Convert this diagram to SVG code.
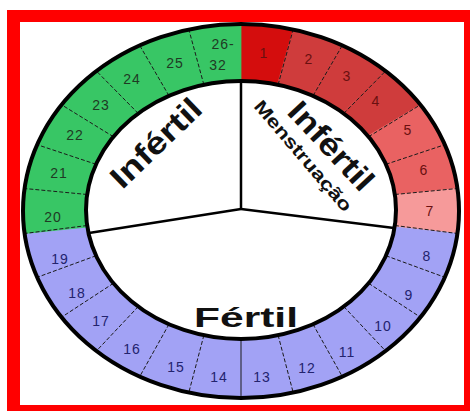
<svg xmlns="http://www.w3.org/2000/svg" width="470" height="415" viewBox="0 0 470 415">
<style>
.d1{fill:#d40d0d;stroke:#d40d0d;stroke-width:0.8}
.d2{fill:#cf3c3c;stroke:#cf3c3c;stroke-width:0.8}
.d5{fill:#e96262;stroke:#e96262;stroke-width:0.8}
.d7{fill:#f69a9a;stroke:#f69a9a;stroke-width:0.8}
.bl{fill:#a2a2f5;stroke:#a2a2f5;stroke-width:0.8}
.gr{fill:#38c665;stroke:#38c665;stroke-width:0.8}
.num{font-family:"Liberation Sans",Arial,sans-serif;font-size:14px;letter-spacing:1px;text-anchor:middle;dominant-baseline:central}
.nr{fill:#6a1010}
.nb{fill:#23236e}
.ng{fill:#1f3a24}
.sep{stroke:#1a1a1a;stroke-width:1;stroke-dasharray:4 2;fill:none}
.big{font-family:"Liberation Sans",Arial,sans-serif;font-weight:bold;fill:#111}
</style>
<rect x="0" y="0" width="470" height="415" fill="#ffffff"/>
<path d="M7,10 H470 V411 H7 Z M20,22 V405 H464 V22 Z" fill="#ff0000" fill-rule="evenodd"/>

<g id="day-1"><path class="d1" d="M241,211 L241,24 A218,187 0 0 1 293.2,29.4 Z"/></g>
<g id="day-2"><path class="d2" d="M241,211 L293.2,29.4 A218,187 0 0 1 342.3,45.4 Z"/></g>
<g id="day-3"><path class="d2" d="M241,211 L342.3,45.4 A218,187 0 0 1 385.6,71 Z"/></g>
<g id="day-4"><path class="d2" d="M241,211 L385.6,71 A218,187 0 0 1 420.4,104.8 Z"/></g>
<g id="day-5"><path class="d5" d="M241,211 L420.4,104.8 A218,187 0 0 1 444.8,144.7 Z"/></g>
<g id="day-6"><path class="d5" d="M241,211 L444.8,144.7 A218,187 0 0 1 457.4,188.5 Z"/></g>
<g id="day-7"><path class="d7" d="M241,211 L457.4,188.5 A218,187 0 0 1 457.4,233.5 Z"/></g>
<g id="day-8"><path class="bl" d="M241,211 L457.4,233.5 A218,187 0 0 1 444.8,277.3 Z"/></g>
<g id="day-9"><path class="bl" d="M241,211 L444.8,277.3 A218,187 0 0 1 420.4,317.2 Z"/></g>
<g id="day-10"><path class="bl" d="M241,211 L420.4,317.2 A218,187 0 0 1 385.6,351 Z"/></g>
<g id="day-11"><path class="bl" d="M241,211 L385.6,351 A218,187 0 0 1 342.3,376.6 Z"/></g>
<g id="day-12"><path class="bl" d="M241,211 L342.3,376.6 A218,187 0 0 1 293.2,392.6 Z"/></g>
<g id="day-13"><path class="bl" d="M241,211 L293.2,392.6 A218,187 0 0 1 241,398 Z"/></g>
<g id="day-14"><path class="bl" d="M241,211 L241,398 A218,187 0 0 1 188.8,392.6 Z"/></g>
<g id="day-15"><path class="bl" d="M241,211 L188.8,392.6 A218,187 0 0 1 139.7,376.6 Z"/></g>
<g id="day-16"><path class="bl" d="M241,211 L139.7,376.6 A218,187 0 0 1 96.4,351 Z"/></g>
<g id="day-17"><path class="bl" d="M241,211 L96.4,351 A218,187 0 0 1 61.6,317.2 Z"/></g>
<g id="day-18"><path class="bl" d="M241,211 L61.6,317.2 A218,187 0 0 1 37.2,277.3 Z"/></g>
<g id="day-19"><path class="bl" d="M241,211 L37.2,277.3 A218,187 0 0 1 24.6,233.5 Z"/></g>
<g id="day-20"><path class="gr" d="M241,211 L24.6,233.5 A218,187 0 0 1 24.6,188.5 Z"/></g>
<g id="day-21"><path class="gr" d="M241,211 L24.6,188.5 A218,187 0 0 1 37.2,144.7 Z"/></g>
<g id="day-22"><path class="gr" d="M241,211 L37.2,144.7 A218,187 0 0 1 61.6,104.8 Z"/></g>
<g id="day-23"><path class="gr" d="M241,211 L61.6,104.8 A218,187 0 0 1 96.4,71 Z"/></g>
<g id="day-24"><path class="gr" d="M241,211 L96.4,71 A218,187 0 0 1 139.7,45.4 Z"/></g>
<g id="day-25"><path class="gr" d="M241,211 L139.7,45.4 A218,187 0 0 1 188.8,29.4 Z"/></g>
<g id="day-26-32"><path class="gr" d="M241,211 L188.8,29.4 A218,187 0 0 1 241,24 Z"/></g>

<g id="separators">
<line class="sep" x1="278.1" y1="84.8" x2="293.2" y2="29.4"/>
<line class="sep" x1="313" y1="95.8" x2="342.3" y2="45.4"/>
<line class="sep" x1="343.8" y1="113.4" x2="385.6" y2="71"/>
<line class="sep" x1="368.6" y1="136.7" x2="420.4" y2="104.8"/>
<line class="sep" x1="385.9" y1="164.3" x2="444.8" y2="144.7"/>
<line class="sep" x1="394.9" y1="194.5" x2="457.4" y2="188.5"/>
<line class="sep" x1="394.9" y1="225.5" x2="457.4" y2="233.5"/>
<line class="sep" x1="385.9" y1="255.7" x2="444.8" y2="277.3"/>
<line class="sep" x1="368.6" y1="283.3" x2="420.4" y2="317.2"/>
<line class="sep" x1="343.8" y1="306.6" x2="385.6" y2="351"/>
<line class="sep" x1="313" y1="324.2" x2="342.3" y2="376.6"/>
<line class="sep" x1="278.1" y1="335.2" x2="293.2" y2="392.6"/>
<line x1="241" y1="339" x2="241" y2="398" stroke="#1a1a1a" stroke-width="1"/>
<line class="sep" x1="203.9" y1="335.2" x2="188.8" y2="392.6"/>
<line class="sep" x1="169" y1="324.2" x2="139.7" y2="376.6"/>
<line class="sep" x1="138.2" y1="306.6" x2="96.4" y2="351"/>
<line class="sep" x1="113.4" y1="283.3" x2="61.6" y2="317.2"/>
<line class="sep" x1="96.1" y1="255.7" x2="37.2" y2="277.3"/>
<line class="sep" x1="87.1" y1="225.5" x2="24.6" y2="233.5"/>
<line class="sep" x1="87.1" y1="194.5" x2="24.6" y2="188.5"/>
<line class="sep" x1="96.1" y1="164.3" x2="37.2" y2="144.7"/>
<line class="sep" x1="113.4" y1="136.7" x2="61.6" y2="104.8"/>
<line class="sep" x1="138.2" y1="113.4" x2="96.4" y2="71"/>
<line class="sep" x1="169" y1="95.8" x2="139.7" y2="45.4"/>
<line class="sep" x1="203.9" y1="84.8" x2="188.8" y2="29.4"/>
</g>

<ellipse cx="241" cy="211" rx="218" ry="187" fill="none" stroke="#000" stroke-width="4"/>
<ellipse cx="241" cy="210" rx="155" ry="129" fill="#ffffff" stroke="#000" stroke-width="4"/>

<g id="spokes" stroke="#000" stroke-width="2.5" fill="none">
<line x1="241" y1="209" x2="241" y2="82"/>
<line x1="241" y1="209" x2="89" y2="233"/>
<line x1="241" y1="209" x2="394" y2="228"/>
</g>

<g id="labels">
<text class="num nr" x="264" y="53">1</text>
<text class="num nr" x="309" y="59">2</text>
<text class="num nr" x="347" y="76">3</text>
<text class="num nr" x="376" y="101">4</text>
<text class="num nr" x="408" y="130">5</text>
<text class="num nr" x="424" y="170">6</text>
<text class="num nr" x="430" y="211">7</text>
<text class="num nb" x="427" y="256">8</text>
<text class="num nb" x="409" y="295">9</text>
<text class="num nb" x="383" y="326">10</text>
<text class="num nb" x="347" y="352">11</text>
<text class="num nb" x="307" y="368">12</text>
<text class="num nb" x="262" y="377">13</text>
<text class="num nb" x="219" y="377">14</text>
<text class="num nb" x="176" y="367">15</text>
<text class="num nb" x="132" y="349">16</text>
<text class="num nb" x="101" y="321">17</text>
<text class="num nb" x="77" y="293">18</text>
<text class="num nb" x="60" y="259">19</text>
<text class="num ng" x="53" y="217">20</text>
<text class="num ng" x="59" y="173">21</text>
<text class="num ng" x="75" y="135">22</text>
<text class="num ng" x="101" y="105">23</text>
<text class="num ng" x="132" y="79">24</text>
<text class="num ng" x="175" y="63">25</text>
<text class="num ng" x="223" y="44">26-</text>
<text class="num ng" x="218" y="65">32</text>
</g>

<g id="phase-infertil-left">
<text class="big" font-size="31" text-anchor="middle" dominant-baseline="central" textLength="114" lengthAdjust="spacingAndGlyphs" transform="translate(156,143) rotate(-44)">Infértil</text>
</g>
<g id="phase-infertil-menstruacao">
<text class="big" font-size="31" text-anchor="middle" dominant-baseline="central" textLength="110" lengthAdjust="spacingAndGlyphs" transform="translate(331,146) rotate(47)">Infértil</text>
<text class="big" font-size="18" text-anchor="middle" dominant-baseline="central" textLength="140" lengthAdjust="spacingAndGlyphs" transform="translate(303,156) rotate(49.5)">Menstruação</text>
</g>
<g id="phase-fertil">
<text class="big" font-size="28" x="194" y="327" textLength="104" lengthAdjust="spacingAndGlyphs">Fértil</text>
</g>
</svg>
